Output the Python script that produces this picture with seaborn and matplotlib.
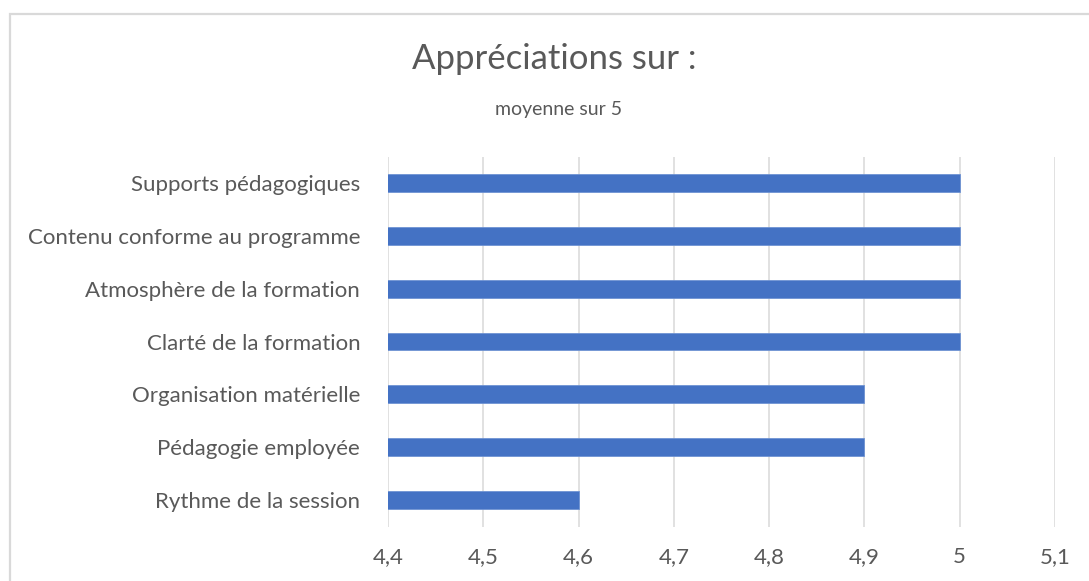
import matplotlib
matplotlib.use("Agg")
import matplotlib.pyplot as plt
import matplotlib.patches as mpatches
import pandas as pd
import seaborn as sns

# Data
categories = [
    "Supports pédagogiques",
    "Contenu conforme au programme",
    "Atmosphère de la formation",
    "Clarté de la formation",
    "Organisation matérielle",
    "Pédagogie employée",
    "Rythme de la session",
]
scores = [5.0, 5.0, 5.0, 5.0, 4.9, 4.9, 4.6]
xticks = [4.4, 4.5, 4.6, 4.7, 4.8, 4.9, 5.0, 5.1]
xtick_labels = ["4,4", "4,5", "4,6", "4,7", "4,8", "4,9", "5", "5,1"]

df = pd.DataFrame({"critere": categories, "moyenne": scores})

sns.set_theme(style="white")
plt.rcParams["font.family"] = ["Lato", "DejaVu Sans"]

grey = "#595959"
fig = plt.figure(figsize=(10.89, 5.81), dpi=100)
ax = fig.add_axes([388 / 1089, 1 - 526.5 / 581, (1055 - 388) / 1089, (526.5 - 156.5) / 581])

sns.barplot(data=df, x="moyenne", y="critere", order=categories, orient="h",
            color="#4472C4", saturation=1, width=0.34, ax=ax,
            edgecolor="#6f93d3", linewidth=0.6)

ax.set_xlim(4.4, 5.1)
ax.set_ylim(6.5, -0.5)
ax.set_xticks(xticks)
ax.set_xticklabels(xtick_labels)
ax.xaxis.grid(True, color="#D9D9D9", linewidth=1.1)
ax.set_axisbelow(True)
for s in ax.spines.values():
    s.set_visible(False)
ax.set_xlabel("")
ax.set_ylabel("")
ax.tick_params(axis="x", length=0, pad=15, labelsize=16, labelcolor=grey)
ax.tick_params(axis="y", length=0, pad=20, labelsize=16, labelcolor=grey)

fig.text(554 / 1089, 1 - 59 / 581, "Appréciations sur :", ha="center", va="center",
         fontsize=25, color=grey)
fig.text(559 / 1089, 1 - 110 / 581, "moyenne sur 5", ha="center", va="center",
         fontsize=14, color=grey)

# chart frame (cropped at right and bottom)
frame = mpatches.Rectangle((9.5 / 1089, -0.1), 1.2, 1 - 13.5 / 581 + 0.1,
                           transform=fig.transFigure, fill=False,
                           edgecolor="#D9D9D9", linewidth=1.6)
fig.patches.append(frame)

fig.savefig("out.png", dpi=100)
